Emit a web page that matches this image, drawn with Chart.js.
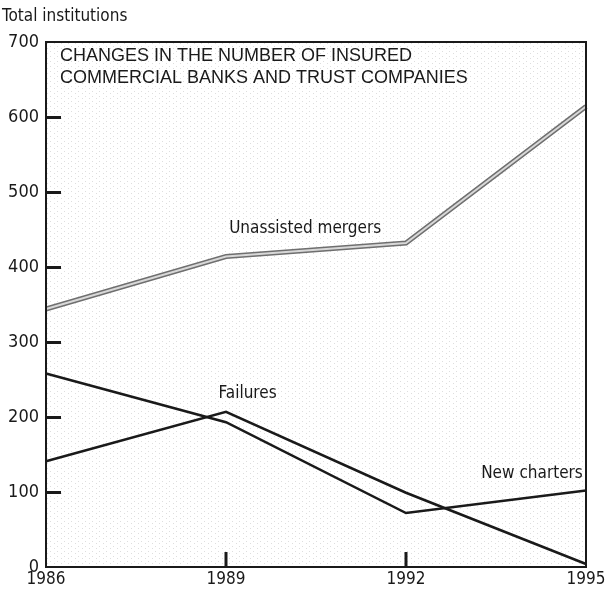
<!DOCTYPE html>
<html>
<head>
<meta charset="utf-8">
<script src="https://cdn.jsdelivr.net/npm/chart.js@4.4.1/dist/chart.umd.min.js"></script>
<style>
  html, body { margin: 0; padding: 0; background: #fff; }
  #wrap { position: relative; width: 612px; height: 592px; }
</style>
</head>
<body>
<div id="wrap"><canvas id="chart" width="612" height="592"></canvas></div>
<script>
// Дані графіка
const years = ["1986", "1989", "1992", "1995"];
const mergers = [344, 414, 432, 614];
const failures = [141, 207, 99, 4];
const newCharters = [258, 193, 72, 102];
const yTicks = [0, 100, 200, 300, 400, 500, 600, 700];

const titleLines = [
    "CHANGES IN THE NUMBER OF INSURED",
    "COMMERCIAL BANKS AND TRUST COMPANIES",
];
const narrow = "'Liberation Sans Narrow', 'DejaVu Sans Condensed', sans-serif";
const ink = "#1a1a1a";

// Рамка, засічки, підписи ліній і заголовок
const framePlugin = {
    id: "frame",
    beforeDatasetsDraw(chart) {
        const { ctx, chartArea: a } = chart;
        // легка крапчаста фактура
        const tile = document.createElement("canvas");
        tile.width = 7;
        tile.height = 5;
        const t = tile.getContext("2d");
        t.fillStyle = "#c8c8c8";
        t.fillRect(1, 1, 1, 1);
        t.fillRect(5, 3, 1, 1);
        ctx.save();
        ctx.fillStyle = ctx.createPattern(tile, "repeat");
        ctx.globalAlpha = 0.6;
        ctx.fillRect(a.left, a.top, a.right - a.left, a.bottom - a.top);
        ctx.restore();
    },
    afterDraw(chart) {
        const { ctx, chartArea: a, scales } = chart;
        const x = scales.x;
        const y = scales.y;
        ctx.save();
        ctx.strokeStyle = ink;
        ctx.lineWidth = 2;
        ctx.strokeRect(a.left, a.top, a.right - a.left, a.bottom - a.top);

        // засічки всередину
        ctx.lineWidth = 3;
        yTicks.slice(1, -1).forEach((v) => {
            const py = Math.round(y.getPixelForValue(v)) + 0.5;
            ctx.beginPath();
            ctx.moveTo(a.left, py);
            ctx.lineTo(a.left + 15, py);
            ctx.stroke();
        });
        [1, 2].forEach((i) => {
            const px = Math.round(x.getPixelForValue(i));
            ctx.beginPath();
            ctx.moveTo(px, a.bottom);
            ctx.lineTo(px, a.bottom - 15);
            ctx.stroke();
        });

        // заголовок
        ctx.fillStyle = ink;
        ctx.font = "18px 'Liberation Sans', Arial, sans-serif";
        ctx.textBaseline = "top";
        ctx.textAlign = "left";
        titleLines.forEach((line, i) => {
            ctx.fillText(line, a.left + 14, a.top + 5 + i * 22);
        });

        // вісь Y: назва
        ctx.font = "17px " + narrow;
        ctx.fillText("Total institutions", 2, 8);

        // підписи рядів
        ctx.font = "17px " + narrow;
        ctx.textBaseline = "alphabetic";
        ctx.textAlign = "center";
        ctx.fillText("Unassisted mergers", x.getPixelForValue(1.44), y.getPixelForValue(446));
        ctx.fillText("Failures", x.getPixelForValue(1.12), y.getPixelForValue(226));
        ctx.fillText("New charters", x.getPixelForValue(2.7), y.getPixelForValue(119));
        ctx.restore();
    },
};

const data = {
    labels: years,
    datasets: [
        {
            label: "Unassisted mergers (light)",
            data: mergers,
            borderColor: "#d8d8d8",
            borderWidth: 2,
            pointRadius: 0,
            tension: 0,
            order: 0,
        },
        {
            label: "Unassisted mergers",
            data: mergers,
            borderColor: "#6f6f6f",
            borderWidth: 5,
            pointRadius: 0,
            tension: 0,
            order: 1,
        },
        {
            label: "Failures",
            data: failures,
            borderColor: ink,
            borderWidth: 2.5,
            pointRadius: 0,
            tension: 0,
        },
        {
            label: "New charters",
            data: newCharters,
            borderColor: ink,
            borderWidth: 2.5,
            pointRadius: 0,
            tension: 0,
        },
    ],
};

const options = {
    responsive: false,
    animation: false,
    layout: { padding: { top: 42, right: 26, bottom: 0, left: 0 } },
    plugins: {
        legend: { display: false },
        tooltip: { enabled: false },
    },
    scales: {
        x: {
            offset: false,
            grid: { display: false, drawTicks: false },
            border: { display: false },
            ticks: {
                color: ink,
                font: { family: narrow, size: 17 },
                padding: 2,
                maxRotation: 0,
            },
            afterFit: (scale) => { scale.height = 25; },
        },
        y: {
            min: 0,
            max: 700,
            grid: { display: false, drawTicks: false },
            border: { display: false },
            ticks: {
                stepSize: 100,
                color: ink,
                font: { family: narrow, size: 18 },
                padding: 7,
            },
            afterFit: (scale) => { scale.width = 46; },
        },
    },
};

new Chart(document.getElementById("chart").getContext("2d"), {
    type: "line",
    data: data,
    options: options,
    plugins: [framePlugin],
});
</script>
</body>
</html>
